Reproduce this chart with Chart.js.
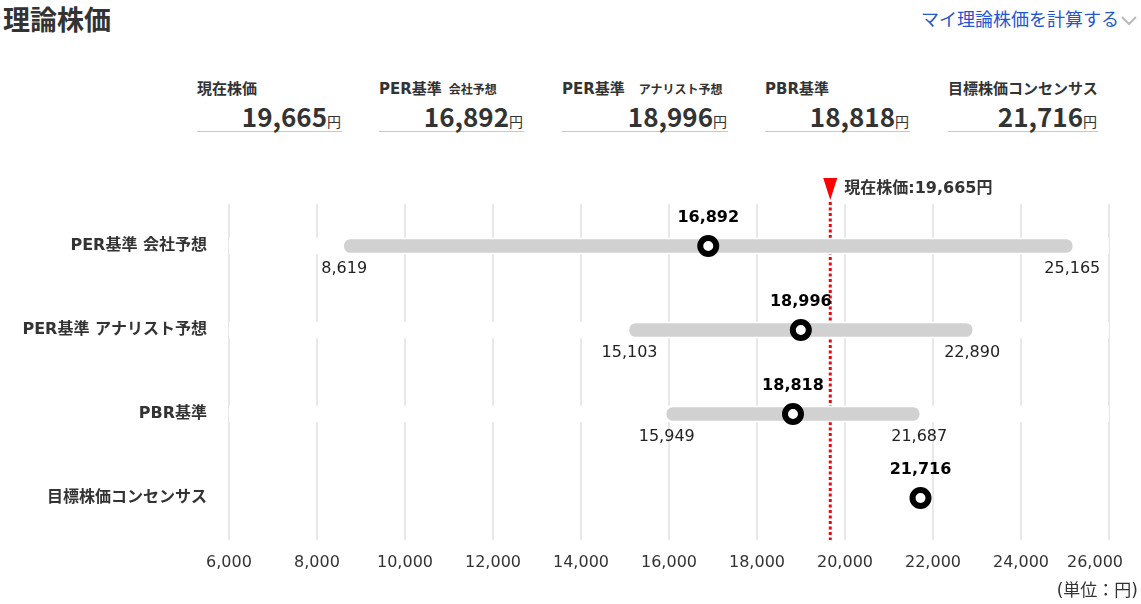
<!DOCTYPE html>
<html lang="ja">
<head>
<meta charset="utf-8">
<title>理論株価</title>
<script src="https://cdn.jsdelivr.net/npm/chart.js@4.4.1/dist/chart.umd.min.js"></script>
<style>
  body { margin: 0; background: #fff; color: #333; font-family: "DejaVu Sans", "Noto Sans CJK JP", sans-serif; }
  #page { position: relative; width: 1141px; height: 604px; overflow: hidden; }
  h1 { position: absolute; left: 3px; top: 5px; margin: 0; font: bold 27px/1 "Noto Sans CJK JP", sans-serif; color: #333; }
  #calc { position: absolute; left: 921px; top: 9px; font: 18px/1 "Noto Sans CJK JP", sans-serif; color: #2456cf; white-space: nowrap; }
  #calc svg { position: absolute; left: 199px; top: 6px; }
  .box { position: absolute; top: 80px; height: 51px; border-bottom: 1px solid #c8c8c8; }
  .box .lbl { font: bold 15px/18px "DejaVu Sans", "Noto Sans CJK JP", sans-serif; white-space: nowrap; }
  .box .lbl small { font: bold 12px/18px "Noto Sans CJK JP", sans-serif; }
  .box .val { margin-top: 2px; text-align: right; padding-right: 1px; font: bold 26px/31px "Noto Sans CJK JP", sans-serif; white-space: nowrap; }
  .box .val span { font: 14px "Noto Sans CJK JP", sans-serif; }
  #wrap { position: absolute; left: 0; top: 150px; width: 1141px; height: 454px; }
  #unit { position: absolute; right: 3px; top: 580px; font: 17px/20px "DejaVu Sans", "Noto Sans CJK JP", sans-serif; color: #333; }
</style>
</head>
<body>
<div id="page">
  <h1>理論株価</h1>
  <div id="calc">マイ理論株価を計算する<svg width="18" height="12"><polyline points="2,2 9,9 16,2" fill="none" stroke="#bbb" stroke-width="2"/></svg></div>
  <div id="boxes"></div>
  <div id="wrap"><canvas id="mycanvas"></canvas></div>
  <div id="unit">(単位：円)</div>
</div>
<script>
// data
var categories = ['PER基準 会社予想', 'PER基準 アナリスト予想', 'PBR基準', '目標株価コンセンサス'];
var lowValues = [8619, 15103, 15949, null];
var highValues = [25165, 22890, 21687, null];
var pointValues = [16892, 18996, 18818, 21716];
var currentPrice = 19665;
var xMin = 6000, xMax = 26000, xStep = 2000;

var summaryTitles = ['現在株価', 'PER基準', 'PER基準', 'PBR基準', '目標株価コンセンサス'];
var summarySubs = ['', '会社予想', 'アナリスト予想', '', ''];
var summaryValues = [currentPrice].concat(pointValues);

var FONT = '"DejaVu Sans", "Noto Sans CJK JP", sans-serif';

function fmt(n) { return n.toLocaleString('en-US'); }

// summary row
var boxLefts = [197, 379, 562, 765, 948];
var boxWidths = [145, 145, 166, 145, 150];
var subGaps = [0, 7, 14, 0, 0];
var html = '';
for (var i = 0; i < summaryTitles.length; i++) {
  html += '<div class="box" style="left:' + boxLefts[i] + 'px;width:' + boxWidths[i] + 'px">' +
    '<div class="lbl">' + summaryTitles[i] +
    (summarySubs[i] ? '<small style="margin-left:' + subGaps[i] + 'px">' + summarySubs[i] + '</small>' : '') +
    '</div><div class="val">' + fmt(summaryValues[i]) + '<span>円</span></div></div>';
}
document.getElementById('boxes').innerHTML = html;

// bars only where there is a range
var bandValues = lowValues.map(function(v) { return v == null ? null : [xMin, xMax]; });
var rangeValues = lowValues.map(function(v, i) { return v == null ? null : [v, highValues[i]]; });

var pricePlugin = {
  id: 'pricePlugin',
  beforeDatasetsDraw: function(chart) {
    var ctx = chart.ctx;
    var area = chart.chartArea;
    var x = chart.scales.x.getPixelForValue(currentPrice);
    ctx.save();
    ctx.strokeStyle = '#ff0000';
    ctx.lineWidth = 3;
    ctx.setLineDash([3, 2.5]);
    ctx.beginPath();
    ctx.moveTo(x, area.top - 2);
    ctx.lineTo(x, area.bottom);
    ctx.stroke();
    ctx.setLineDash([]);
    ctx.fillStyle = '#ff0000';
    ctx.beginPath();
    ctx.moveTo(x - 7, area.top - 26);
    ctx.lineTo(x + 7, area.top - 26);
    ctx.lineTo(x, area.top - 4);
    ctx.closePath();
    ctx.fill();
    ctx.fillStyle = '#333';
    ctx.font = 'bold 16px ' + FONT;
    ctx.textAlign = 'left';
    ctx.textBaseline = 'middle';
    ctx.fillText('現在株価:' + fmt(currentPrice) + '円', x + 14, area.top - 15);
    ctx.restore();
  },
  afterDatasetsDraw: function(chart) {
    var ctx = chart.ctx;
    var xs = chart.scales.x;
    ctx.save();
    ctx.textAlign = 'center';
    ctx.textBaseline = 'middle';
    // range ends
    ctx.font = '16px ' + FONT;
    ctx.fillStyle = '#222';
    chart.getDatasetMeta(1).data.forEach(function(el, i) {
      if (lowValues[i] == null) return;
      ctx.fillText(fmt(lowValues[i]), xs.getPixelForValue(lowValues[i]), el.y + 23);
      ctx.fillText(fmt(highValues[i]), xs.getPixelForValue(highValues[i]), el.y + 23);
    });
    // point values
    ctx.font = 'bold 16px ' + FONT;
    ctx.fillStyle = '#000';
    chart.getDatasetMeta(2).data.forEach(function(el, i) {
      ctx.fillText(fmt(pointValues[i]), el.x, el.y - 28);
    });
    ctx.restore();
  },
  afterDraw: function(chart) {
    // last tick label kept inside the canvas
    var ctx = chart.ctx;
    var xs = chart.scales.x;
    ctx.save();
    ctx.font = '16px ' + FONT;
    ctx.fillStyle = '#333';
    ctx.textAlign = 'center';
    ctx.textBaseline = 'middle';
    ctx.fillText(fmt(xMax), xs.getPixelForValue(xMax) - 14, chart.chartArea.bottom + 23);
    ctx.restore();
  }
};

var ctx = document.getElementById('mycanvas');
var chart = new Chart(ctx, {
  type: 'bar',
  data: {
    labels: categories,
    datasets: [
      {
        label: 'band',
        data: bandValues,
        backgroundColor: '#ffffff',
        barThickness: 16,
        grouped: false,
        order: 2
      },
      {
        label: 'range',
        data: rangeValues,
        backgroundColor: '#d1d1d1',
        barThickness: 13,
        borderRadius: 7,
        borderSkipped: false,
        grouped: false,
        order: 1
      },
      {
        type: 'line',
        label: 'value',
        data: pointValues,
        showLine: false,
        pointRadius: 8,
        pointHoverRadius: 8,
        pointBorderWidth: 6,
        pointHoverBorderWidth: 6,
        pointBackgroundColor: '#ffffff',
        pointBorderColor: '#000000',
        order: 0
      }
    ]
  },
  options: {
    indexAxis: 'y',
    responsive: true,
    maintainAspectRatio: false,
    animation: false,
    layout: { padding: { top: 54, right: 32, left: 0, bottom: 0 } },
    plugins: { legend: { display: false }, tooltip: { enabled: false } },
    scales: {
      x: {
        type: 'linear',
        min: xMin,
        max: xMax,
        afterFit: function(scale) { scale.height = 64; },
        ticks: {
          stepSize: xStep,
          padding: 13,
          color: '#333',
          font: { family: FONT, size: 16 },
          maxRotation: 0,
          callback: function(v) { return v === xMax ? '' : fmt(v); }
        },
        grid: { color: '#e8e8e8', lineWidth: 2, drawTicks: false },
        border: { display: false }
      },
      y: {
        type: 'category',
        offset: true,
        afterFit: function(scale) { scale.width = 229; },
        ticks: {
          padding: 22,
          color: '#333',
          font: { family: FONT, size: 16, weight: 'bold' }
        },
        grid: { display: false, drawTicks: false },
        border: { display: false }
      }
    }
  },
  plugins: [pricePlugin]
});
</script>
</body>
</html>
